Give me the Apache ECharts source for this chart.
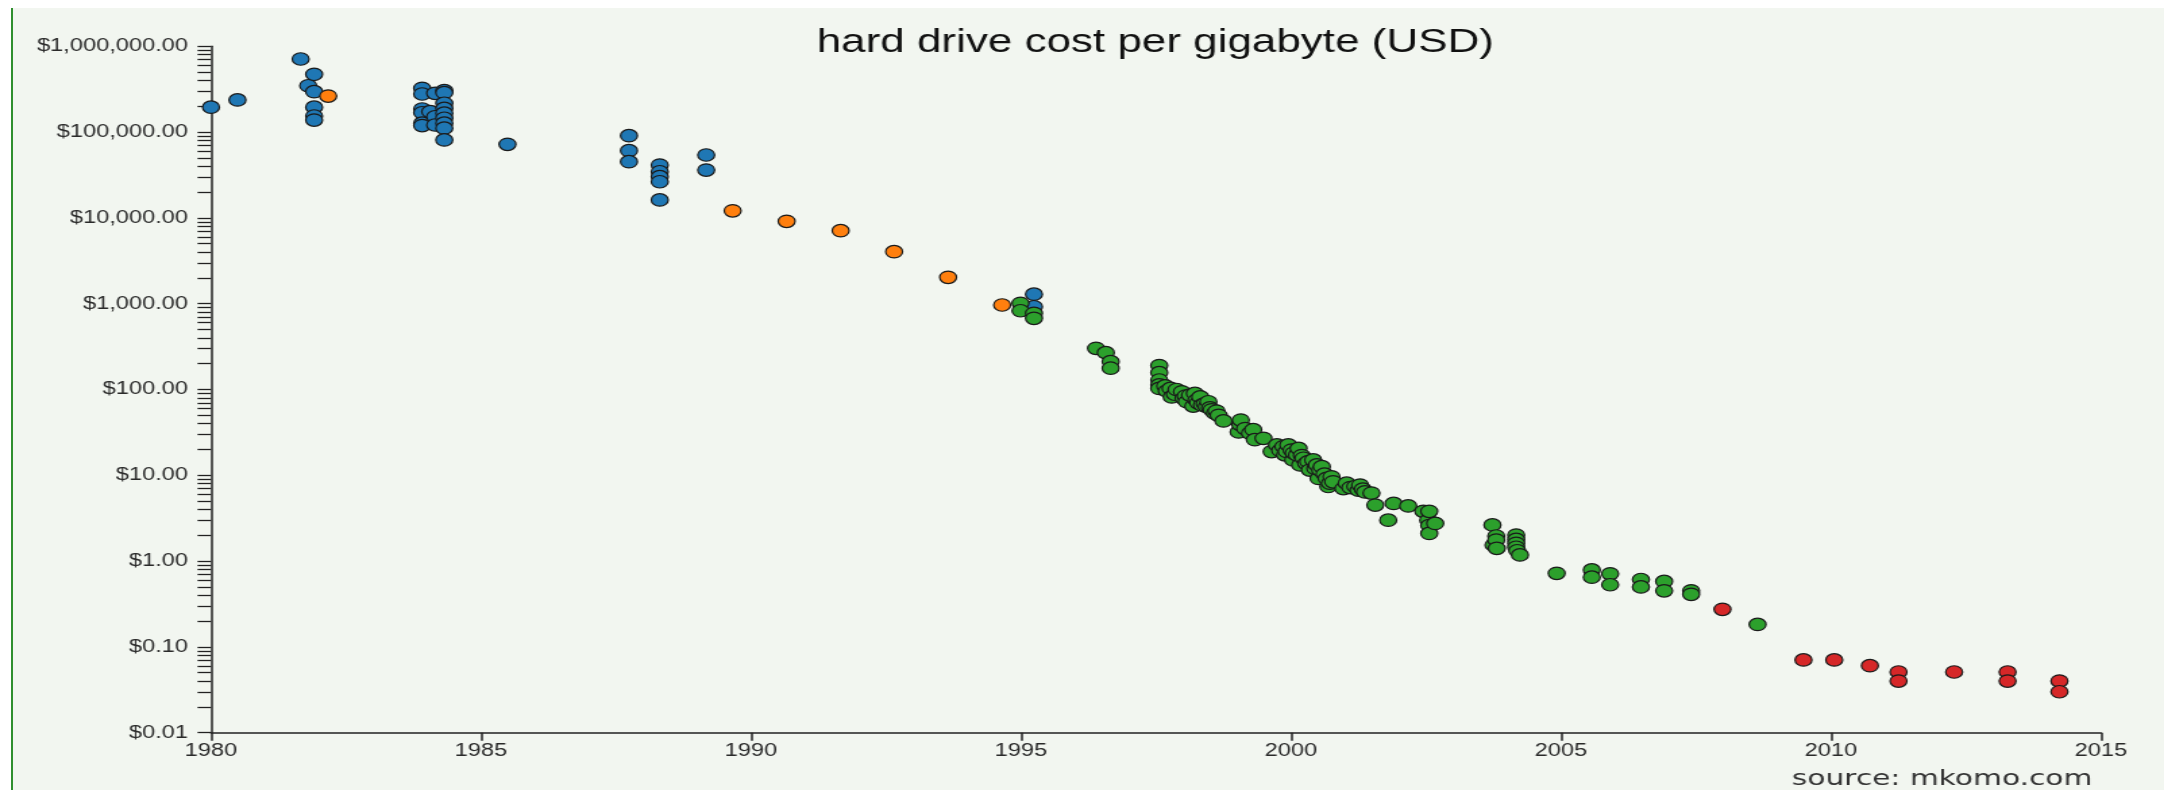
<!DOCTYPE html>
<html>
<head>
<meta charset="utf-8">
<title>hard drive cost per gigabyte</title>
<script src="https://cdn.jsdelivr.net/npm/echarts@6/dist/echarts.min.js"></script>
<style>
    html, body { margin: 0; padding: 0; background: #fff; overflow: hidden; width: 2164px; height: 790px; }
    #panel { position: absolute; left: 11px; top: 8px; right: 0; bottom: 0; background: #f2f6f0; border-left: 2px solid #2f8f2f; }
    /* the source picture is stretched sideways, so the chart is drawn narrower and widened */
    #main { position: absolute; left: 0; top: 0; width: 1603px; height: 790px; transform: scaleX(1.35); transform-origin: 0 0; }
</style>
</head>
<body>
<div id="panel"></div>
<div id="main"></div>
<script>
// blue points
var blueYears = [1980.0, 1980.49, 1981.66, 1981.80, 1981.91, 1981.91, 1981.91, 1981.91, 1981.91,
    1983.91, 1983.91, 1983.91, 1983.91, 1983.91, 1983.91, 1984.06,
    1984.15, 1984.15, 1984.15,
    1984.32, 1984.32, 1984.32, 1984.32, 1984.32, 1984.32, 1984.32, 1984.32, 1984.32,
    1985.49, 1987.74, 1987.74, 1987.74,
    1988.31, 1988.31, 1988.31, 1988.31, 1988.31,
    1989.17, 1989.17, 1995.24, 1995.24];
var blueCosts = [195000, 237000, 711000, 347000, 472000, 296000, 195000, 154000, 138000,
    324000, 278000, 186000, 168000, 127000, 119000, 173000,
    283000, 151000, 121000,
    304000, 288000, 217000, 189000, 166000, 145000, 127000, 111000, 81000,
    72000, 90800, 60700, 45200,
    41300, 34500, 30200, 26400, 16200,
    54100, 36100, 1290, 922];

// orange points
var orangeYears = [1982.17, 1989.66, 1990.66, 1991.66, 1992.65, 1993.65, 1994.65];
var orangeCosts = [263000, 12100, 9120, 7090, 4040, 2030, 966];

// green points
var greenYears = [1994.99, 1994.99, 1995.24, 1995.24,
    1996.39, 1996.57, 1996.66, 1996.66,
    1997.56, 1997.56, 1997.56, 1997.56, 1997.56,
    1997.67, 1997.70, 1997.77, 1997.79, 1997.85, 1997.88, 1997.98, 1998.01, 1998.05, 1998.07,
    1998.13, 1998.19, 1998.22, 1998.25, 1998.28, 1998.32, 1998.35, 1998.40, 1998.44, 1998.47,
    1998.50, 1998.53, 1998.59, 1998.62, 1998.66, 1998.75,
    1999.03, 1999.06, 1999.07, 1999.15, 1999.24, 1999.30, 1999.33, 1999.49,
    1999.64, 1999.74, 1999.80, 1999.86, 1999.89, 1999.92, 1999.95, 2000.01, 2000.04, 2000.05,
    2000.11, 2000.14, 2000.17, 2000.20, 2000.23, 2000.28, 2000.32, 2000.35, 2000.41, 2000.45,
    2000.48, 2000.51, 2000.54, 2000.57, 2000.62, 2000.66, 2000.69, 2000.72, 2000.75, 2000.78,
    2000.97, 2001.03, 2001.10, 2001.19, 2001.25, 2001.28, 2001.33, 2001.37, 2001.49,
    2001.56, 2001.80, 2001.90, 2002.17, 2002.45, 2002.54, 2002.56, 2002.56, 2002.56, 2002.67,
    2003.73, 2003.75, 2003.80, 2003.80, 2003.81,
    2004.17, 2004.17, 2004.17, 2004.17, 2004.19, 2004.24,
    2004.92, 2005.57, 2005.57, 2005.91, 2005.91, 2006.48, 2006.48, 2006.91, 2006.91,
    2007.41, 2007.41, 2008.64];
var greenCosts = [1010, 828, 773, 676,
    302, 269, 211, 177,
    190, 157, 129, 113, 103,
    110, 96, 103, 82, 88, 100, 94, 79, 84, 72,
    86, 64, 90, 75, 70, 82, 66, 68, 63, 72,
    61, 58, 53, 56, 50, 43,
    32, 39, 44, 35, 31, 34, 26, 27,
    18.9, 22.6, 19.5, 21.6, 17.3, 19.0, 22.6, 19.7, 15.1, 18.2,
    17.3, 20.6, 13.2, 17.0, 15.8, 13.8, 14.4, 11.5, 15.1, 12.0,
    13.2, 9.2, 11.5, 12.6, 10.3, 9.2, 7.4, 8.1, 9.6, 8.4,
    7.0, 8.1, 7.2, 7.4, 6.7, 7.7, 6.9, 6.4, 6.2,
    4.5, 3.0, 4.7, 4.4, 3.8, 3.0, 3.8, 2.6, 2.1, 2.75,
    2.64, 1.54, 1.96, 1.76, 1.41,
    2.01, 1.79, 1.61, 1.45, 1.32, 1.18,
    0.72, 0.79, 0.65, 0.71, 0.53, 0.61, 0.50, 0.58, 0.45,
    0.45, 0.41, 0.183];

// red points
var redYears = [2007.99, 2009.49, 2010.06, 2010.72, 2011.25, 2011.25, 2012.28, 2013.27, 2013.27, 2014.23, 2014.23];
var redCosts = [0.274, 0.0705, 0.0705, 0.0604, 0.051, 0.040, 0.051, 0.051, 0.040, 0.040, 0.030];

// axis ticks
var xTicks = [1980, 1985, 1990, 1995, 2000, 2005, 2010, 2015];
var yLabelValues = [0.01, 0.1, 1, 10, 100, 1000, 10000, 100000, 1000000];
var yLabelTexts = ['$0.01', '$0.10', '$1.00', '$10.00', '$100.00', '$1,000.00',
    '$10,000.00', '$100,000.00', '$1,000,000.00'];
var minorSteps = [2, 3, 4, 5, 6, 7, 8, 9];

function pairs(xs, ys) {
    var res = [];
    for (var i = 0; i < xs.length; i++) {
        res.push([xs[i], ys[i]]);
    }
    return res;
}

var yTickValues = (function () {
    var res = [];
    yLabelValues.forEach(function (d, i) {
        res.push(d);
        if (i < yLabelValues.length - 1) {
            minorSteps.forEach(function (m) {
                res.push(+(d * m).toPrecision(3));
            });
        }
    });
    return res;
})();

function yLabel(v) {
    for (var i = 0; i < yLabelValues.length; i++) {
        if (Math.abs(Math.log10(yLabelValues[i]) - Math.log10(v)) < 1e-6) {
            return yLabelTexts[i];
        }
    }
    return '';
}

var axisColor = '#222';
var labelColor = '#2a2a2a';

function dots(name, xs, ys, color) {
    return {
        name: name,
        type: 'scatter',
        data: pairs(xs, ys),
        symbol: 'circle',
        symbolSize: 12.5,
        itemStyle: { color: color, borderColor: '#1a1a1a', borderWidth: 1.2, opacity: 1 },
        emphasis: { disabled: true }
    };
}

var chartDom = document.getElementById('main');
var myChart = echarts.init(chartDom, null, { renderer: 'canvas' });
var option = {
    backgroundColor: 'transparent',
    animation: false,
    title: [
        {
            text: 'hard drive cost per gigabyte (USD)',
            left: 605,
            top: 27,
            padding: 0,
            textStyle: { fontFamily: 'Liberation Sans, Arial, sans-serif', fontSize: 32.6, fontWeight: 'normal', color: '#111' }
        },
        {
            text: 'source: mkomo.com',
            right: 53,
            top: 768,
            padding: 0,
            textStyle: { fontFamily: 'DejaVu Sans, sans-serif', fontSize: 22, fontWeight: 'normal', color: '#333' }
        }
    ],
    grid: { left: 156.3, right: 46.7, top: 46.3, bottom: 57.3, containLabel: false },
    xAxis: {
        type: 'value',
        min: 1980,
        max: 2015,
        interval: 5,
        axisLine: { show: true, onZero: false, lineStyle: { color: axisColor, width: 1.5 } },
        axisTick: { show: true, length: 8, lineStyle: { color: axisColor, width: 1.5 } },
        axisLabel: {
            fontFamily: 'Liberation Sans, Arial, sans-serif',
            fontSize: 17.5,
            color: labelColor,
            margin: 9,
            customValues: xTicks,
            formatter: function (v) { return String(v); }
        },
        splitLine: { show: false }
    },
    yAxis: {
        type: 'log',
        logBase: 10,
        min: 0.01,
        max: 1000000,
        axisLine: { show: true, lineStyle: { color: axisColor, width: 1.5 } },
        axisTick: { show: true, length: 10, customValues: yTickValues, lineStyle: { color: axisColor, width: 1.3 } },
        axisLabel: {
            fontFamily: 'Liberation Sans, Arial, sans-serif',
            fontSize: 17.5,
            color: labelColor,
            margin: 17,
            customValues: yLabelValues,
            formatter: yLabel
        },
        splitLine: { show: false }
    },
    series: [
        dots('blue', blueYears, blueCosts, '#1f77b4'),
        dots('orange', orangeYears, orangeCosts, '#ff7f0e'),
        dots('green', greenYears, greenCosts, '#2ca02c'),
        dots('red', redYears, redCosts, '#d62728')
    ]
};

option && myChart.setOption(option);
</script>
</body>
</html>
